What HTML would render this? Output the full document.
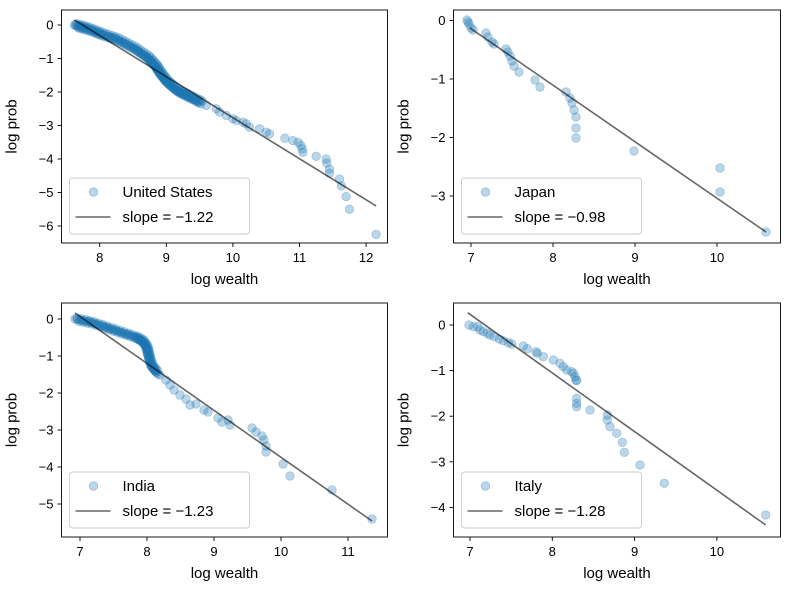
<!DOCTYPE html>
<html><head><meta charset="utf-8"><style>
body{margin:0;background:#fff}
svg text{font-family:"Liberation Sans","DejaVu Sans",sans-serif;fill:#000}
</style></head><body>
<svg id="s" width="789" height="590" xmlns="http://www.w3.org/2000/svg"></svg>
<script>
const S=document.getElementById('s');let h='';
function panel(o){
 const L=o.L,T=o.T,R=o.R,B=o.B;
 for(const p of o.pts){h+=`<circle cx="${p[0]}" cy="${p[1]}" r="4.3" fill="#1f77b4" fill-opacity="0.3" stroke="#1f77b4" stroke-opacity="0.3" stroke-width="0.8"/>`;}
 h+=`<line x1="${o.line[0]}" y1="${o.line[1]}" x2="${o.line[2]}" y2="${o.line[3]}" stroke="#000" stroke-opacity="0.6" stroke-width="1.6"/>`;
 h+=`<rect x="${L}" y="${T}" width="${R-L}" height="${B-T}" fill="none" stroke="#000" stroke-width="0.9"/>`;
 for(const t of o.xt){const x=o.x0+(t-o.xv0)*o.xs;h+=`<line x1="${x}" y1="${B}" x2="${x}" y2="${B+4}" stroke="#000" stroke-width="0.9"/><text x="${x}" y="${B+19}" font-size="13" text-anchor="middle">${t}</text>`;}
 for(const t of o.yt){const y=o.y0-t*o.ys;h+=`<line x1="${L-4}" y1="${y}" x2="${L}" y2="${y}" stroke="#000" stroke-width="0.9"/><text x="${L-8}" y="${y+4.5}" font-size="13" text-anchor="end">${t<0?'\u2212'+(-t):t}</text>`;}
 h+=`<text x="${(L+R)/2}" y="${B+41}" font-size="15" text-anchor="middle">log wealth</text>`;
 h+=`<text transform="translate(${L-45},${(T+B)/2}) rotate(-90)" x="0" y="0" font-size="15" text-anchor="middle">log prob</text>`;
 const lx=L+8,ly=B-65;
 h+=`<rect x="${lx}" y="${ly}" width="${o.lw}" height="56" rx="3" fill="#fff" fill-opacity="0.8" stroke="#ccc" stroke-width="0.9"/>`;
 h+=`<circle cx="${lx+24}" cy="${ly+14}" r="4.3" fill="#1f77b4" fill-opacity="0.3" stroke="#1f77b4" stroke-opacity="0.3"/>`;
 h+=`<text x="${lx+53}" y="${ly+19}" font-size="15">${o.name}</text>`;
 h+=`<line x1="${lx+6}" y1="${ly+39}" x2="${lx+41}" y2="${ly+39}" stroke="#000" stroke-opacity="0.6" stroke-width="1.6"/>`;
 h+=`<text x="${lx+53}" y="${ly+44}" font-size="15">slope = \u2212${o.slope}</text>`;
}
function interp(arr,n){const out=[];for(let i=0;i<arr.length-1;i++){const a=arr[i],b=arr[i+1];for(let k=0;k<n;k++){const t=k/n;out.push([a[0]+(b[0]-a[0])*t,a[1]+(b[1]-a[1])*t]);}}out.push(arr[arr.length-1]);return out;}
function thick(arr,d){const o=[];arr.forEach((p,i)=>{o.push(p);o.push([p[0]+d,p[1]+d*(i%2?1:-0.5)]);});return o;}
const ux=v=>99.7+(v-8)*66.6, uy=v=>25-v*33.5;
let usd=thick(interp([[7.62,0],[7.8,-0.1],[8,-0.25],[8.25,-0.42],[8.5,-0.68],[8.7,-0.95],[8.82,-1.2],[8.9,-1.45],[9.0,-1.7],[9.15,-1.95],[9.3,-2.1],[9.5,-2.3]],10).map(p=>[ux(p[0]),uy(p[1])]),2.5);
const uss=[[9.6,-2.4],[9.75,-2.5],[9.8,-2.6],[9.9,-2.7],[10,-2.8],[10.05,-2.85],[10.15,-2.9],[10.2,-2.95],[10.25,-3.05],[10.4,-3.1],[10.5,-3.2],[10.55,-3.25],[10.78,-3.38],[10.9,-3.45],[10.98,-3.5],[11.02,-3.6],[11.04,-3.7],[11.05,-3.8],[11.25,-3.92],[11.4,-4.0],[11.41,-4.12],[11.45,-4.3],[11.45,-4.42],[11.6,-4.6],[11.63,-4.8],[11.7,-5.12],[11.75,-5.5],[12.15,-6.25]].map(p=>[ux(p[0]),uy(p[1])]);
panel({L:61.5,T:10,R:387.5,B:243,x0:99.7,xv0:8,xs:66.6,xt:[8,9,10,11,12],y0:25,ys:33.5,yt:[0,-1,-2,-3,-4,-5,-6],
 pts:usd.concat(uss),line:[ux(7.62),uy(0.15),ux(12.15),uy(-5.4)],name:'United States',slope:'1.22',lw:180});
panel({L:453.5,T:10,R:780.5,B:243,x0:471,xv0:7,xs:82,xt:[7,8,9,10],y0:20.5,ys:58.5,yt:[0,-1,-2,-3],
 pts:[[467,20],[468,22],[469,24],[471,28],[473,30],[486,33],[488,37],[492,42],[494,44],[506,49],[508,52],[510,56],[512,61],[514,66],[519,72],[535,80],[540,87],[566,92],[570,98],[572,103],[574,110],[576,117],[576,128],[576,138],[634,151],[720,168],[720,192],[766,232]],
 line:[470,28,766,232],name:'Japan',slope:'0.98',lw:180});
let ind=thick(interp([[75,319],[90,322],[105,327],[120,332],[135,337],[142,341],[146,347],[148,356],[151,366],[156,372]],7),2);
panel({L:61.5,T:303,R:387.5,B:537,x0:80,xv0:7,xs:67,xt:[7,8,9,10,11],y0:319,ys:37,yt:[0,-1,-2,-3,-4,-5],
 pts:ind.concat([[160,375],[166,380],[170,385],[174,390],[180,395],[186,399],[190,405],[196,404],[204,410],[208,412],[218,418],[222,422],[228,420],[230,425],[252,428],[256,432],[262,436],[264,440],[266,446],[266,452],[283,464],[290,476],[332,490],[372,519]]),
 line:[75,313,372,521],name:'India',slope:'1.23',lw:180});
const it=[[207,105],[220,110],[233,110],[240,120],[250,125],[262,130],[270,135],[283,140],[298,147],[310,152],[325,158],[335,162],[370,168],[382,176],[408,185],[412,190],[430,200],[460,210],[480,220],[490,230],[500,240],[515,245],[520,250],[525,260],[528,270],[530,272],[530,325],[530,340],[530,350],[570,360],[622,375],[622,390],[630,410],[650,430],[667,457],[673,487],[720,525],[793,580],[1097,675]].map(p=>[400+p[0]/3,290+p[1]/3]);
panel({L:453.5,T:303,R:780.5,B:537,x0:470,xv0:7,xs:82.3,xt:[7,8,9,10],y0:325,ys:45.6,yt:[0,-1,-2,-3,-4],
 pts:it,line:[467.7,312.7,765.7,525],name:'Italy',slope:'1.28',lw:180});
S.innerHTML=h;
</script>
</body></html>
